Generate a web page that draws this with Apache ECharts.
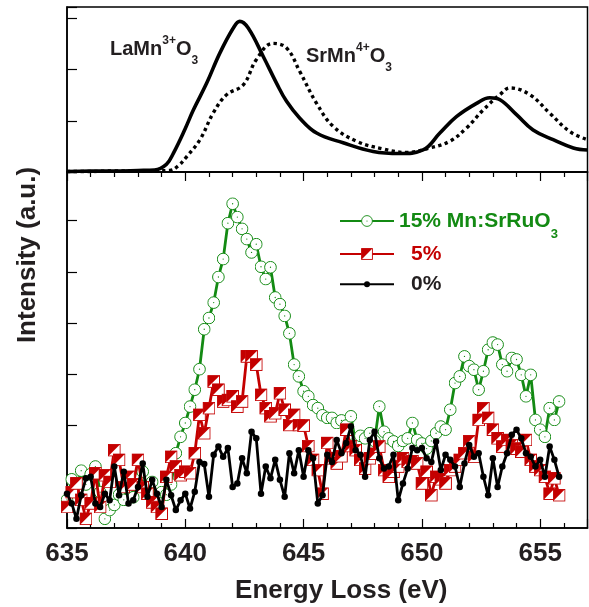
<!DOCTYPE html>
<html>
<head>
<meta charset="utf-8">
<script src="https://cdn.jsdelivr.net/npm/echarts@6/dist/echarts.min.js"></script>
<style>
  html, body { margin: 0; padding: 0; background: #fff; }
  #main { width: 589px; height: 607px; }
</style>
</head>
<body>
<div id="main"></div>
<script>
// energy grid (eV) of the Mn:SrRuO3 spectra
var energy = [
  635.0, 635.2, 635.4, 635.6, 635.8, 636.0, 636.2, 636.4, 636.6, 636.8,
  637.0, 637.2, 637.4, 637.6, 637.8, 638.0, 638.2, 638.4, 638.6, 638.8,
  639.0, 639.2, 639.4, 639.6, 639.8, 640.0, 640.2, 640.4, 640.6, 640.8,
  641.0, 641.2, 641.4, 641.6, 641.8, 642.0, 642.2, 642.4, 642.6, 642.8,
  643.0, 643.2, 643.4, 643.6, 643.8, 644.0, 644.2, 644.4, 644.6, 644.8,
  645.0, 645.2, 645.4, 645.6, 645.8, 646.0, 646.2, 646.4, 646.6, 646.8,
  647.0, 647.2, 647.4, 647.6, 647.8, 648.0, 648.2, 648.4, 648.6, 648.8,
  649.0, 649.2, 649.4, 649.6, 649.8, 650.0, 650.2, 650.4, 650.6, 650.8,
  651.0, 651.2, 651.4, 651.6, 651.8, 652.0, 652.2, 652.4, 652.6, 652.8,
  653.0, 653.2, 653.4, 653.6, 653.8, 654.0, 654.2, 654.4, 654.6, 654.8,
  655.0, 655.2, 655.4, 655.6, 655.8
];
// 15% Mn:SrRuO3
var mn15 = [
  0.55, 0.95, 0.75, 1.12, 0.85, 1.05, 1.2, 0.7, 0.18, 0.35,
  0.45, 0.65, 0.55, 0.8, 0.6, 0.95, 1.1, 0.75, 0.9, 0.55,
  0.7, 0.65, 0.85, 1.46, 1.78, 2.05, 2.37, 2.7, 3.1, 3.88,
  4.1, 4.4, 4.9, 5.25, 5.95, 6.33, 6.07, 5.84, 5.64, 5.38,
  5.54, 5.1, 4.86, 5.09, 4.5, 4.37, 4.14, 3.8, 3.19, 2.96,
  2.67, 2.57, 2.4, 2.34, 2.2, 2.15, 2.15, 2.05, 2.1, 2.0,
  2.18, 1.66, 1.8, 1.75, 1.85, 1.7, 2.37, 1.88, 1.75, 1.69,
  1.6, 1.7, 1.75, 2.05, 1.72, 1.65, 1.55, 1.7, 1.85, 1.98,
  1.92, 2.31, 2.83, 2.96, 3.35, 3.16, 3.09, 2.7, 3.06, 3.48,
  3.62, 3.58, 3.19, 3.06, 3.32, 3.29, 2.99, 2.57, 2.99, 2.11,
  1.92, 1.78, 2.34, 2.11, 2.47
];
// 5%
var mn5 = [
  0.41, 0.7, 0.87, 0.55, 0.18, 0.48, 1.07, 0.41, 1.03, 0.9,
  1.52, 1.33, 0.8, 1.0, 0.85, 1.33, 0.8, 0.67, 0.5, 0.41,
  0.28, 1.0, 1.39, 1.2, 1.03, 1.1, 1.07, 1.46, 2.21, 1.85,
  2.34, 2.86, 2.7, 2.47, 2.5, 2.57, 2.37, 2.47, 3.35, 3.35,
  3.19, 2.6, 2.34, 2.18, 2.24, 2.63, 2.31, 2.01, 2.21, 2.01,
  2.0, 1.6, 1.33, 1.13, 0.67, 1.66, 1.36, 1.26, 1.4, 1.92,
  1.6, 1.52, 1.33, 1.16, 1.36, 1.45, 1.59, 1.13, 1.0, 1.1,
  1.2, 1.36, 1.29, 1.3, 1.26, 0.87, 1.1, 0.64, 1.0, 0.95,
  0.87, 1.13, 1.2, 1.33, 1.46, 1.69, 1.39, 2.11, 2.34, 2.15,
  1.92, 1.75, 1.59, 1.72, 1.62, 1.55, 1.49, 1.72, 1.33, 1.2,
  1.13, 1.0, 0.67, 0.97, 0.64
];
// 0%
var mn0 = [
  0.67, 0.48, 0.18, 0.64, 0.97, 1.0, 0.48, 0.41, 0.67, 0.54,
  1.2, 0.64, 1.1, 0.48, 0.54, 0.8, 1.26, 0.61, 0.94, 0.67,
  0.41, 0.94, 0.64, 0.35, 0.54, 0.67, 0.38, 0.71, 1.29, 1.25,
  0.61, 1.43, 1.59, 1.39, 1.56, 0.8, 0.87, 1.36, 1.07, 1.88,
  1.75, 0.67, 1.2, 0.97, 1.33, 0.94, 0.61, 1.46, 1.07, 1.52,
  1.0, 1.52, 1.36, 0.48, 0.64, 1.43, 1.29, 1.72, 1.46, 1.66,
  1.98, 1.52, 1.43, 1.0, 1.72, 1.88, 1.36, 1.16, 1.2, 1.43,
  0.54, 0.87, 1.16, 1.56, 1.52, 1.56, 1.36, 1.29, 1.69, 1.13,
  1.43, 1.33, 1.2, 0.8, 1.26, 1.62, 1.39, 1.46, 1.0, 0.64,
  1.36, 0.8, 1.2, 1.46, 1.82, 1.92, 1.75, 1.46, 1.39, 1.2,
  1.33, 1.0, 1.59, 1.33, 1.0
];

// reference spectra, top panel
var laE = [635, 636, 637, 638, 638.7, 639.2, 639.5, 640.0, 640.34, 640.9, 641.46, 642.03, 642.3,
  642.66, 643.3, 643.86, 644.28, 644.84, 645.55, 646.67, 647.94, 649.07, 650.05, 650.76, 651.46,
  652.31, 652.87, 653.3, 654.0, 654.7, 655.55, 656.4, 657];
var laI = [0.01, 0.02, 0.02, 0.03, 0.04, 0.15, 0.37, 0.85, 1.21, 1.73, 2.32, 2.81, 2.94,
  2.81, 2.25, 1.73, 1.38, 1.05, 0.76, 0.57, 0.40, 0.36, 0.43, 0.76, 1.08,
  1.34, 1.45, 1.41, 1.12, 0.82, 0.63, 0.47, 0.43];
var srE = [635, 636, 637, 638, 639.35, 639.7, 640.06, 640.62, 641.18, 641.75, 642.45, 643.0, 643.7,
  644.28, 644.84, 645.55, 646.25, 647.24, 648.36, 649.35, 650.34, 651.18, 651.89, 652.59, 653.3,
  653.72, 654.56, 655.4, 656.25, 657];
var srI = [0.01, 0.01, 0.02, 0.02, 0.03, 0.12, 0.30, 0.63, 1.15, 1.51, 1.70, 2.19, 2.51,
  2.42, 1.96, 1.34, 0.89, 0.60, 0.45, 0.38, 0.47, 0.60, 0.86, 1.21, 1.51,
  1.64, 1.51, 1.15, 0.79, 0.63];

var GREEN = '#138a13';
var RED = '#c40000';
var INK = '#231f20';
var FONT = '"Liberation Sans", Arial, sans-serif';

function zip(xs, ys) {
  return xs.map(function (x, i) { return [x, ys[i]]; });
}

function svgSymbol(svg) {
  return 'image://data:image/svg+xml;charset=utf-8,' + encodeURIComponent(svg);
}
var circleDot = svgSymbol(
  "<svg xmlns='http://www.w3.org/2000/svg' width='40' height='40' viewBox='0 0 40 40'>" +
  "<circle cx='20' cy='20' r='18' fill='white' stroke='" + GREEN + "' stroke-width='3'/>" +
  "<circle cx='20' cy='20' r='2' fill='" + GREEN + "'/></svg>");
var halfSquare = svgSymbol(
  "<svg xmlns='http://www.w3.org/2000/svg' width='40' height='40' viewBox='0 0 40 40'>" +
  "<rect x='2' y='2' width='36' height='36' fill='white' stroke='" + RED + "' stroke-width='3'/>" +
  "<path d='M2,2 L38,2 L2,38 Z' fill='" + RED + "'/></svg>");

var myChart = echarts.init(document.getElementById('main'));

var xCommon = {
  type: 'value',
  min: 635,
  max: 657,
  interval: 5,
  axisLine: { show: true, lineStyle: { color: '#000', width: 1.5 } },
  axisTick: { show: true, inside: true, length: 9, lineStyle: { color: '#000', width: 1.2 } },
  minorTick: { show: true, splitNumber: 5, length: 5, lineStyle: { color: '#000', width: 1.2 } },
  splitLine: { show: false },
  minorSplitLine: { show: false }
};

function yAxisOf(gridIndex, max) {
  return {
    type: 'value',
    gridIndex: gridIndex,
    min: 0,
    max: max,
    interval: 1,
    axisLine: { show: true, lineStyle: { color: '#000', width: 1.5 } },
    axisTick: { show: true, inside: true, length: 10, lineStyle: { color: '#000', width: 1.2 } },
    axisLabel: { show: false },
    splitLine: { show: false }
  };
}

myChart.setOption({
  animation: false,
  backgroundColor: '#fff',
  grid: [
    { left: 67, right: 1.5, top: 7, height: 165, outerBoundsMode: 'none', containLabel: false,
      show: true, borderColor: '#000', borderWidth: 1.5 },
    { left: 67, right: 1.5, top: 172, height: 356, outerBoundsMode: 'none', containLabel: false,
      show: true, borderColor: '#000', borderWidth: 1.5 }
  ],
  xAxis: [
    Object.assign({}, xCommon, {
      gridIndex: 0,
      position: 'top',
      axisLabel: { show: false }
    }),
    Object.assign({}, xCommon, {
      gridIndex: 1,
      position: 'bottom',
      name: 'Energy Loss (eV)',
      nameLocation: 'middle',
      nameGap: 50,
      nameTextStyle: { fontFamily: FONT, fontWeight: 'bold', fontSize: 26, color: INK, padding: [0, 0, 0, 28] },
      axisLabel: {
        show: true, margin: 13, showMaxLabel: false,
        fontFamily: FONT, fontWeight: 'bold', fontSize: 26, color: INK
      }
    })
  ],
  yAxis: [yAxisOf(0, 3.22), yAxisOf(1, 6.95)],
  legend: [
    {
      data: ['15% Mn:SrRuO3'], left: 339, top: 210.5, padding: 0,
      orient: 'vertical', selectedMode: false, itemWidth: 54, itemHeight: 15,
      formatter: function () { return '{a|15% Mn:SrRuO}{s|3}'; },
      textStyle: {
        rich: {
          a: { fontFamily: FONT, fontWeight: 'bold', fontSize: 21, color: GREEN, lineHeight: 40, verticalAlign: 'middle' },
          s: { fontFamily: FONT, fontWeight: 'bold', fontSize: 13, color: GREEN, lineHeight: 40, verticalAlign: 'bottom' }
        }
      }
    },
    {
      data: ['5%'], left: 339, top: 242, padding: 0,
      orient: 'vertical', selectedMode: false, itemWidth: 54, itemHeight: 15,
      textStyle: { fontFamily: FONT, fontWeight: 'bold', fontSize: 21, color: RED, lineHeight: 24, padding: [0, 0, 0, 12] }
    },
    {
      data: ['0%'], left: 339, top: 272.3, padding: 0,
      orient: 'vertical', selectedMode: false, itemWidth: 54, itemHeight: 7.5,
      textStyle: { fontFamily: FONT, fontWeight: 'bold', fontSize: 21, color: INK, lineHeight: 24, padding: [0, 0, 0, 12] }
    }
  ],
  graphic: [
    {
      type: 'text', x: 28, y: 255, rotation: Math.PI / 2,
      style: {
        text: 'Intensity (a.u.)', fill: INK, align: 'center', verticalAlign: 'middle',
        font: 'bold 26px ' + FONT
      }
    },
    {
      type: 'text', x: 110, y: 49,
      style: {
        text: '{m|LaMn}{p|3+}{m|O}{b|3}', align: 'left', verticalAlign: 'middle',
        rich: {
          m: { fill: INK, fontFamily: FONT, fontWeight: 'bold', fontSize: 20, lineHeight: 36, verticalAlign: 'middle' },
          p: { fill: INK, fontFamily: FONT, fontWeight: 'bold', fontSize: 12, lineHeight: 36, verticalAlign: 'top', padding: [4, 0, 0, 0] },
          b: { fill: INK, fontFamily: FONT, fontWeight: 'bold', fontSize: 12, lineHeight: 36, verticalAlign: 'bottom' }
        }
      }
    },
    {
      type: 'text', x: 306, y: 56,
      style: {
        text: '{m|SrMn}{p|4+}{m|O}{b|3}', align: 'left', verticalAlign: 'middle',
        rich: {
          m: { fill: INK, fontFamily: FONT, fontWeight: 'bold', fontSize: 20, lineHeight: 36, verticalAlign: 'middle' },
          p: { fill: INK, fontFamily: FONT, fontWeight: 'bold', fontSize: 12, lineHeight: 36, verticalAlign: 'top', padding: [4, 0, 0, 0] },
          b: { fill: INK, fontFamily: FONT, fontWeight: 'bold', fontSize: 12, lineHeight: 36, verticalAlign: 'bottom' }
        }
      }
    }
  ],
  series: [
    {
      name: 'LaMn3+O3', type: 'line', xAxisIndex: 0, yAxisIndex: 0,
      data: zip(laE, laI), smooth: 0.4, symbol: 'none',
      lineStyle: { color: '#000', width: 3.6 }
    },
    {
      name: 'SrMn4+O3', type: 'line', xAxisIndex: 0, yAxisIndex: 0,
      data: zip(srE, srI), smooth: 0.4, symbol: 'none',
      lineStyle: { color: '#000', width: 3.4, type: [3.4, 3.4], cap: 'butt' }
    },
    {
      name: '15% Mn:SrRuO3', type: 'line', xAxisIndex: 1, yAxisIndex: 1, z: 2,
      data: zip(energy, mn15), symbol: circleDot, symbolSize: 13,
      lineStyle: { color: GREEN, width: 2.8 },
      itemStyle: { color: GREEN }
    },
    {
      name: '5%', type: 'line', xAxisIndex: 1, yAxisIndex: 1, z: 3,
      data: zip(energy, mn5), symbol: halfSquare, symbolSize: 13,
      lineStyle: { color: RED, width: 2.8 },
      itemStyle: { color: RED }
    },
    {
      name: '0%', type: 'line', xAxisIndex: 1, yAxisIndex: 1, z: 4,
      data: zip(energy, mn0), symbol: 'circle', symbolSize: 6.5,
      lineStyle: { color: '#000', width: 2.8 },
      itemStyle: { color: '#000' }
    }
  ]
});
</script>
</body>
</html>
